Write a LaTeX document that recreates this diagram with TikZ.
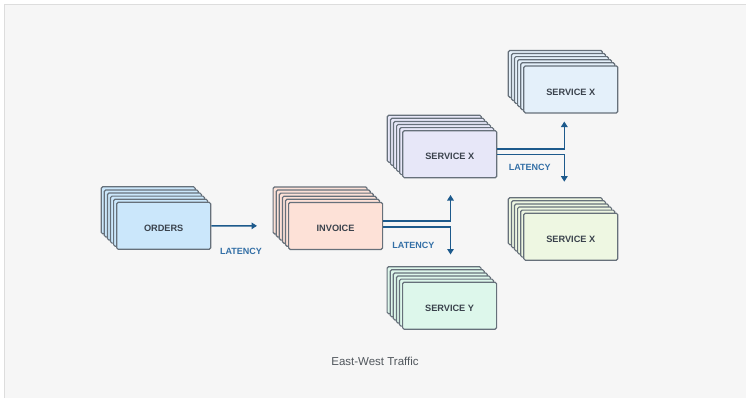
\documentclass[tikz,border=0pt]{standalone}
\usepackage{fontspec}
\setmainfont{Liberation Sans}
\usetikzlibrary{arrows.meta}

\definecolor{panel}{HTML}{F6F6F6}
\definecolor{panelline}{HTML}{DDDDDD}
\definecolor{cardline}{HTML}{66707A}
\definecolor{cardtext}{HTML}{3A424C}
\definecolor{flowblue}{HTML}{1D5A8C}
\definecolor{latblue}{HTML}{336FA6}
\definecolor{captiongrey}{HTML}{50565C}
\definecolor{ordersfill}{HTML}{CBE7FB}
\definecolor{invoicefill}{HTML}{FDE1D7}
\definecolor{svcmidfill}{HTML}{E7E7F8}
\definecolor{svctopfill}{HTML}{E4F0FA}
\definecolor{svcbotfill}{HTML}{EEF7E2}
\definecolor{svcyfill}{HTML}{DDF7EB}

\tikzset{
  card/.style={draw=cardline, line width=1.2pt, rounded corners=1.5pt,
    minimum width=94pt, minimum height=47pt, inner sep=0pt,
    font=\fontsize{9.2}{10}\selectfont\bfseries, text=cardtext},
  cardlabel/.style={inner sep=0pt, anchor=base,
    font=\fontsize{9.2}{10}\selectfont\bfseries, text=cardtext},
  flow/.style={draw=flowblue, line width=1.6pt,
    -{Triangle[width=6.5pt,length=5.5pt]}},
  latency/.style={text=latblue, inner sep=0pt,
    font=\fontsize{9}{10}\selectfont\bfseries},
  caption/.style={text=captiongrey, inner sep=0pt,
    font=\fontsize{11.5}{13}\selectfont}
}

% A stack of six cards: five offset copies behind a named front card,
% whose label sits on a baseline a little below the card's centre.
% #1 name, #2 x, #3 y (front centre), #4 fill, #5 label
\newcommand\cardstack[5]{%
  \foreach \k in {5,4,3,2,1}{%
    \node[card, fill=#4] at ({#2-3.1*\k},{#3-3.1*\k}) {};
  }
  \node[card, fill=#4] (#1) at (#2,#3) {};
  \node[cardlabel] (#1-label) at ([yshift=-5.6pt]#1.center) {#5};
}

\begin{document}
\begin{tikzpicture}[x=1pt, y=-1pt]
  \useasboundingbox (0,0) rectangle (746,397);
  % panel
  \fill[panel] (4,4) rectangle (760,410);
  \draw[panelline, line width=1pt] (4,410) -- (4,4) -- (760,4);

  % card stacks
  \cardstack{orders}{163.7}{225.8}{ordersfill}{ORDERS}
  \cardstack{invoice}{335.6}{225.9}{invoicefill}{INVOICE}
  \cardstack{svcmid}{449.8}{154.2}{svcmidfill}{SERVICE X}
  \cardstack{svctop}{570.8}{89.4}{svctopfill}{SERVICE X}
  \cardstack{svcbot}{570.8}{236.7}{svcbotfill}{SERVICE X}
  \cardstack{svcy}{449.6}{305.7}{svcyfill}{SERVICE Y}

  % arrow end points
  \coordinate (invUp) at (450.5,195);
  \coordinate (invDown) at (450.5,254.5);
  \coordinate (midUp) at (564.3,121.5);
  \coordinate (midDown) at (564.3,181.7);

  % connectors
  \draw[flow, shorten >=31pt] (orders) -- (invoice);
  \draw[flow] ([yshift=5pt]invoice.east) -| (invUp);
  \draw[flow] ([yshift=-1pt]invoice.east) -| (invDown);
  \draw[flow] ([yshift=5.2pt]svcmid.east) -| (midUp);
  \draw[flow] ([yshift=-0.2pt]svcmid.east) -| (midDown);

  % labels
  \node[latency] (lat1) at (241,251) {LATENCY};
  \node[latency] (lat2) at (413.4,245.3) {LATENCY};
  \node[latency] (lat3) at (529.7,167.6) {LATENCY};
  \node[caption] (title) at (375,361) {East-West Traffic};
\end{tikzpicture}
\end{document}
